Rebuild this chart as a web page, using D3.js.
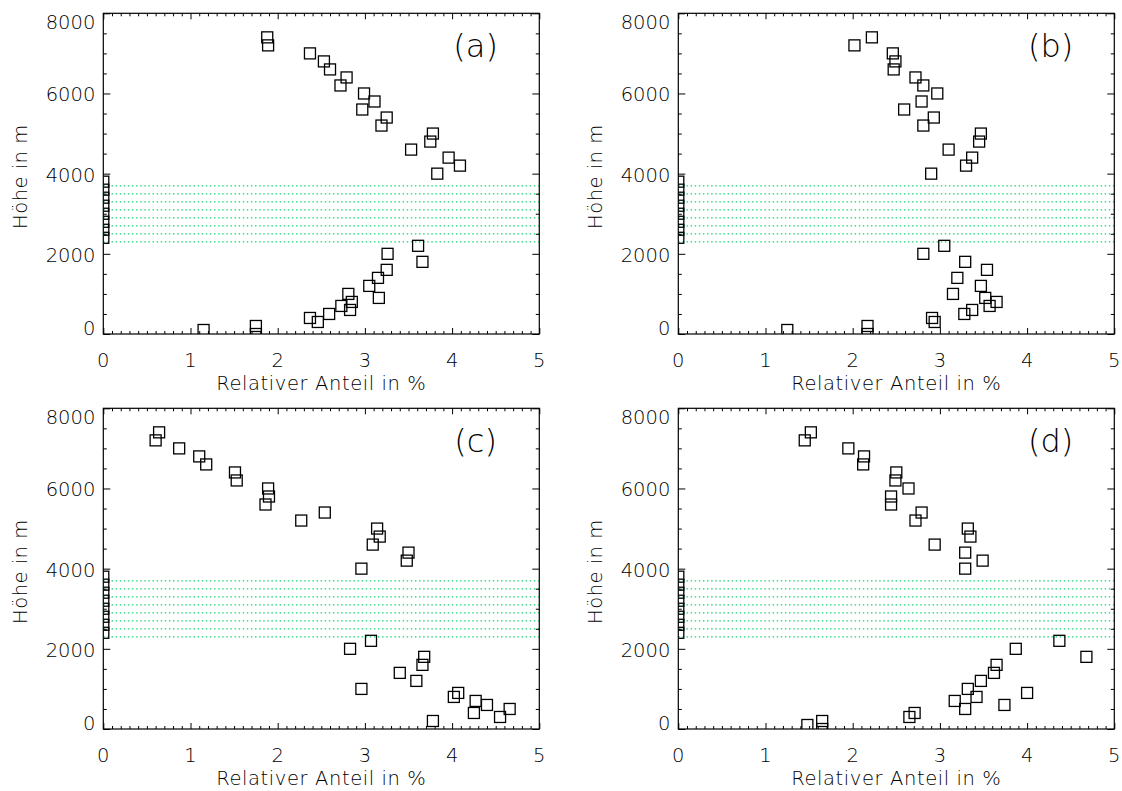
<!DOCTYPE html>
<html>
<head>
<meta charset="utf-8">
<script src="https://cdn.jsdelivr.net/npm/d3@7"></script>
<style>
  body { margin: 0; background: #fff; }
  text { font-family: "DejaVu Sans", sans-serif; font-weight: 200; fill: #000; }
</style>
</head>
<body>
<div id="chart"></div>
<script>
// heights (m) of the two point groups, and the empty band in between
var upperHeights = [4000, 4200, 4400, 4600, 4800, 5000, 5200, 5400, 5600, 5800, 6000, 6200, 6400, 6600, 6800, 7000, 7200, 7400];
var lowerHeights = [0, 100, 200, 300, 400, 500, 600, 700, 800, 900, 1000, 1200, 1400, 1600, 1800, 2000, 2200];
var gapHeights = [2400, 2600, 2800, 3000, 3200, 3400, 3600, 3800];
var lineHeights = [2300, 2500, 2700, 2900, 3100, 3300, 3500, 3700];

// relative share in % for each panel
var upperA = [3.83, 4.09, 3.96, 3.53, 3.75, 3.78, 3.19, 3.25, 2.97, 3.11, 2.99, 2.72, 2.79, 2.60, 2.53, 2.37, 1.89, 1.88];
var lowerA = [1.75, 1.15, 1.75, 2.46, 2.37, 2.59, 2.83, 2.73, 2.85, 3.16, 2.81, 3.05, 3.15, 3.25, 3.66, 3.26, 3.61];
var upperB = [2.90, 3.30, 3.37, 3.10, 3.45, 3.47, 2.81, 2.93, 2.59, 2.79, 2.97, 2.81, 2.72, 2.47, 2.49, 2.46, 2.02, 2.22];
var lowerB = [2.17, 1.25, 2.17, 2.94, 2.91, 3.28, 3.37, 3.57, 3.65, 3.52, 3.15, 3.47, 3.20, 3.54, 3.29, 2.81, 3.05];
var upperC = [2.96, 3.48, 3.50, 3.09, 3.17, 3.14, 2.27, 2.54, 1.86, 1.90, 1.89, 1.53, 1.51, 1.18, 1.10, 0.87, 0.60, 0.64];
var lowerC = [null, null, 3.78, 4.55, 4.25, 4.66, 4.40, 4.27, 4.02, 4.07, 2.96, 3.59, 3.40, 3.66, 3.68, 2.83, 3.07];
var upperD = [3.29, 3.49, 3.29, 2.94, 3.35, 3.32, 2.72, 2.79, 2.44, 2.44, 2.64, 2.49, 2.50, 2.12, 2.13, 1.95, 1.45, 1.52];
var lowerD = [1.65, 1.48, 1.65, 2.65, 2.71, 3.29, 3.74, 3.17, 3.42, 4.00, 3.32, 3.47, 3.62, 3.65, 4.68, 3.87, 4.37];

var panelLabels = ["(a)", "(b)", "(c)", "(d)"];
var xTicks = [0, 1, 2, 3, 4, 5];
var yTicks = [0, 2000, 4000, 6000, 8000];

var panels = [
    { label: panelLabels[0], upper: upperA, lower: lowerA, left: 103.3, top: 13.3 },
    { label: panelLabels[1], upper: upperB, lower: lowerB, left: 678.3, top: 13.3 },
    { label: panelLabels[2], upper: upperC, lower: lowerC, left: 103.3, top: 408.3 },
    { label: panelLabels[3], upper: upperD, lower: lowerD, left: 678.3, top: 408.3 }
];

var W = 436, H = 320.7;
var box = 11;

var svg = d3.select("#chart").append("svg")
    .attr("width", 1122)
    .attr("height", 791);

var x = d3.scaleLinear().domain([0, 5]).range([0, W]);
var y = d3.scaleLinear().domain([0, 8000]).range([H, 0]);

svg.append("clipPath").attr("id", "plotclip")
    .append("rect").attr("width", W).attr("height", H);

panels.forEach(function (p) {
    var g = svg.append("g").attr("transform", "translate(" + p.left + "," + p.top + ")");

    var pts = [];
    upperHeights.forEach(function (h, i) { if (p.upper[i] != null) pts.push([p.upper[i], h]); });
    lowerHeights.forEach(function (h, i) { if (p.lower[i] != null) pts.push([p.lower[i], h]); });
    gapHeights.forEach(function (h) { pts.push([0, h]); });

    var plot = g.append("g").attr("clip-path", "url(#plotclip)");

    plot.selectAll("line.band")
        .data(lineHeights)
        .enter()
        .append("line")
        .attr("class", "band")
        .attr("x1", x(0)).attr("x2", x(5))
        .attr("y1", function (d) { return Math.round(y(d)) + 0.5; })
        .attr("y2", function (d) { return Math.round(y(d)) + 0.5; })
        .style("stroke", "#14d873")
        .style("stroke-width", 1.2)
        .style("stroke-dasharray", "1.5,2.6");

    plot.selectAll("rect.pt")
        .data(pts)
        .enter()
        .append("rect")
        .attr("class", "pt")
        .attr("x", function (d) { return x(d[0]) - box / 2; })
        .attr("y", function (d) { return y(d[1]) - box / 2; })
        .attr("width", box)
        .attr("height", box)
        .style("fill", "none")
        .style("stroke", "#000")
        .style("stroke-width", 1.3);

    // frame
    g.append("rect")
        .attr("width", W).attr("height", H)
        .style("fill", "none")
        .style("stroke", "#000")
        .style("stroke-width", 1.2);

    var xMinor = d3.range(0, 51).map(function (i) { return i / 10; }).filter(function (v) { return v % 1 !== 0; });
    var yMinor = d3.range(0, 8001, 500).filter(function (v) { return v % 2000 !== 0; });

    // inward ticks on all four sides
    function tickAxis(axis, ticks, size, transform) {
        var a = g.append("g").attr("transform", transform)
            .call(axis.tickValues(ticks).tickSize(size).tickFormat(""));
        a.select(".domain").remove();
        a.selectAll("line").style("stroke", "#000").style("stroke-width", 1);
    }
    tickAxis(d3.axisBottom(x), xTicks, -6, "translate(0," + H + ")");
    tickAxis(d3.axisBottom(x), xMinor, -3, "translate(0," + H + ")");
    tickAxis(d3.axisTop(x), xTicks, -6, "translate(0,0)");
    tickAxis(d3.axisTop(x), xMinor, -3, "translate(0,0)");
    tickAxis(d3.axisLeft(y), yTicks, -7, "translate(0,0)");
    tickAxis(d3.axisLeft(y), yMinor, -3.5, "translate(0,0)");
    tickAxis(d3.axisRight(y), yTicks, -7, "translate(" + W + ",0)");
    tickAxis(d3.axisRight(y), yMinor, -3.5, "translate(" + W + ",0)");

    // tick labels
    g.selectAll("text.xl")
        .data(xTicks)
        .enter()
        .append("text")
        .attr("class", "xl")
        .attr("x", function (d) { return x(d); })
        .attr("y", H + 33)
        .attr("text-anchor", "middle")
        .style("font-size", "19.5px")
        .text(function (d) { return d; });

    g.selectAll("text.yl")
        .data(yTicks)
        .enter()
        .append("text")
        .attr("class", "yl")
        .attr("x", -8)
        .attr("y", function (d) { return Math.min(Math.max(y(d) + 1, 8.7), H - 6) + 7; })
        .attr("text-anchor", "end")
        .style("font-size", "19.5px")
        .text(function (d) { return d; });

    g.append("text")
        .attr("x", W / 2)
        .attr("y", H + 56)
        .attr("text-anchor", "middle")
        .style("font-size", "19.5px")
        .style("letter-spacing", "0.6px")
        .text("Relativer Anteil in %");

    g.append("text")
        .attr("transform", "translate(" + (-76) + "," + (H / 2 + 3) + ") rotate(-90)")
        .attr("text-anchor", "middle")
        .style("font-size", "19.5px")
        .style("letter-spacing", "0.5px")
        .text("Höhe in m");

    g.append("text")
        .attr("x", x(4.27))
        .attr("y", 44)
        .attr("text-anchor", "middle")
        .style("font-size", "32px")
        .text(p.label);
});
</script>
</body>
</html>
